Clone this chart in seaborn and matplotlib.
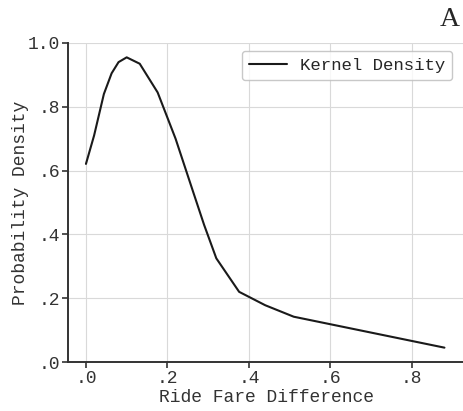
import matplotlib
matplotlib.use('Agg')
import matplotlib.pyplot as plt
import seaborn as sns
import pandas as pd
from matplotlib.ticker import FuncFormatter

# curve values
fare_diff = [0.0, 0.02, 0.044, 0.063, 0.08, 0.10, 0.132, 0.176, 0.22, 0.264,
             0.29, 0.32, 0.376, 0.44, 0.51, 0.88]
density = [0.621, 0.71, 0.84, 0.905, 0.94, 0.955, 0.935, 0.845, 0.70, 0.53,
           0.43, 0.325, 0.22, 0.178, 0.142, 0.045]
x_ticks = [0.0, 0.2, 0.4, 0.6, 0.8]
y_ticks = [0.0, 0.2, 0.4, 0.6, 0.8, 1.0]

df = pd.DataFrame({'x': fare_diff, 'y': density})

sns.set_style('whitegrid', {'grid.color': '#d9d9d9', 'axes.edgecolor': '#333333'})
plt.rcParams['font.family'] = ['Liberation Mono', 'DejaVu Sans']

fig = plt.figure(figsize=(4.64, 4.11), dpi=100)
ax = fig.add_axes([0.1466, 0.1192, 0.8534, 0.7762])

sns.lineplot(data=df, x='x', y='y', color='#1a1a1a', linewidth=1.5,
             label='Kernel Density', ax=ax)

ax.set_xlim(-0.044, 0.928)
ax.set_ylim(0, 1.0)
ax.set_xticks(x_ticks)
ax.set_yticks(y_ticks)

def strip_zero(v, pos):
    s = f'{v:.1f}'
    return s[1:] if s.startswith('0') else s

ax.xaxis.set_major_formatter(FuncFormatter(strip_zero))
ax.yaxis.set_major_formatter(FuncFormatter(strip_zero))
ax.tick_params(axis='both', labelsize=13, length=4, width=1.2, direction='out',
               left=True, bottom=True, colors='#333333', pad=2)

for side in ['top', 'right']:
    ax.spines[side].set_visible(False)
for side in ['left', 'bottom']:
    ax.spines[side].set_linewidth(1.4)

ax.set_xlabel('Ride Fare Difference', fontsize=13, color='#333333', labelpad=1)
ax.set_ylabel('Probability Density', fontsize=13, color='#333333', labelpad=-1)

leg = ax.legend(loc='upper right', fontsize=12.5, frameon=True, fancybox=True,
                borderpad=0.4, handlelength=2.2, handletextpad=0.75,
                borderaxespad=0, bbox_to_anchor=(0.97, 0.975))
leg.get_frame().set_edgecolor('#bbbbbb')

fig.text(0.97, 1 - 26 / 411, 'A', fontsize=20, family='Liberation Serif',
         ha='center', va='baseline')

plt.savefig('out.png', dpi=100)
